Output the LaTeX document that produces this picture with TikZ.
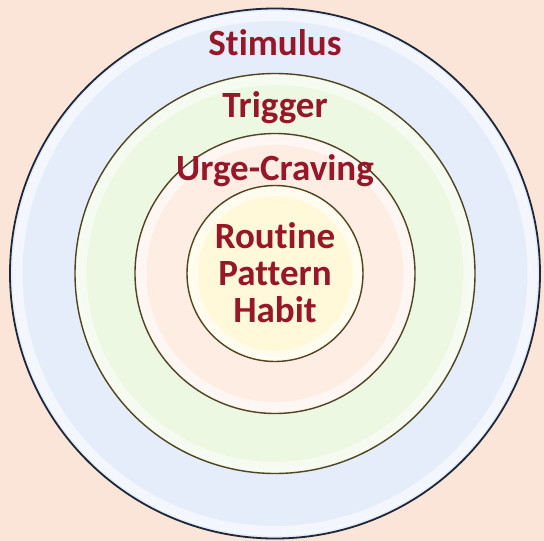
\documentclass[tikz,border=0pt]{standalone}
\usepackage{fontspec}
\setmainfont{Carlito}[Ligatures={NoCommon,NoContextual}]
\definecolor{bgpeach}{HTML}{FBE5D8}
\definecolor{ringblue}{HTML}{E5EDFA}
\definecolor{ringgreen}{HTML}{EDF8E2}
\definecolor{ringpink}{HTML}{FDEDE3}
\definecolor{ringyellow}{HTML}{FFF9DA}
\definecolor{edgedark}{HTML}{1E2838}
\definecolor{edgeolive}{HTML}{4F4424}
\definecolor{labelred}{HTML}{971628}
\tikzset{
  disc/.style={line width=1.4pt},
  glow/.style={draw=white, opacity=0.55, line width=7pt},
  glowthin/.style={draw=white, opacity=0.6, line width=3pt},
  lbl/.style={font=\bfseries\fontsize{37}{40}\selectfont, text=labelred, anchor=base, inner sep=0pt}
}
\begin{document}
\begin{tikzpicture}[x=1pt,y=-1pt]
\fill[bgpeach] (0,0) rectangle (544,541);
\useasboundingbox (0,0) rectangle (544,541);
\coordinate (c) at (275,273.5);
% outer ring
\fill[ringblue] (c) circle[radius=265];
\draw[glow] (c) circle[radius=256];
\draw[glowthin] (c) circle[radius=261];
\draw[disc, draw=edgedark, line width=1.8pt] (c) circle[radius=265];
% green ring
\fill[ringgreen] (c) circle[radius=200];
\draw[glow] (c) circle[radius=192];
\draw[glowthin] (c) circle[radius=197];
\draw[disc, draw=edgeolive] (c) circle[radius=200];
% pink ring
\fill[ringpink] (c) circle[radius=140];
\draw[glow] (c) circle[radius=132];
\draw[glowthin] (c) circle[radius=137];
\draw[disc, draw=edgeolive] (c) circle[radius=140];
% inner disc
\fill[ringyellow] (c) circle[radius=88];
\draw[glow] (c) circle[radius=81];
\draw[glowthin] (c) circle[radius=85];
\draw[disc, draw=edgeolive] (c) circle[radius=88];
% labels
\node[lbl] (stim) at (275,55) {Stimulus};
\node[lbl] (trig) at (275,117) {Trigger};
\node[lbl] (urge) at (275,180) {Urge-Craving};
\node[lbl] (rout) at (275,248) {Routine};
\node[lbl] (patt) at (275,285) {Pattern};
\node[lbl] (habit) at (275,322) {Habit};
\end{tikzpicture}
\end{document}
